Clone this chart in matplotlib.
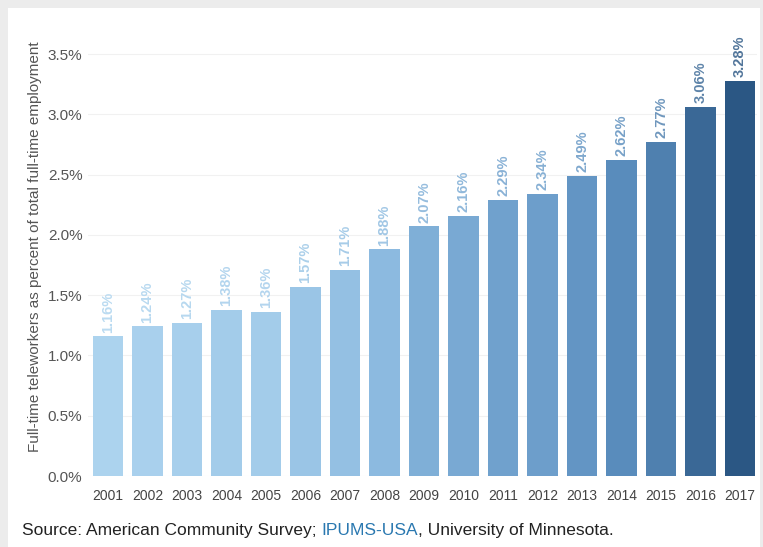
import matplotlib.pyplot as plt
from matplotlib.colors import LinearSegmentedColormap, Normalize
from matplotlib.patches import Rectangle

plt.rcParams['font.family'] = ['Liberation Sans', 'DejaVu Sans']

years = ['2001', '2002', '2003', '2004', '2005', '2006', '2007', '2008', '2009',
         '2010', '2011', '2012', '2013', '2014', '2015', '2016', '2017']
share = [1.16, 1.24, 1.27, 1.38, 1.36, 1.57, 1.71, 1.88, 2.07,
         2.16, 2.29, 2.34, 2.49, 2.62, 2.77, 3.06, 3.28]
yticks = [0.0, 0.5, 1.0, 1.5, 2.0, 2.5, 3.0, 3.5]

fig = plt.figure(figsize=(7.63, 5.47), dpi=100)
fig.patch.set_facecolor('#ececec')
# white card behind everything
fig.patches.append(Rectangle((8 / 763, 0), 752 / 763, 539 / 547,
                             transform=fig.transFigure, facecolor='white',
                             edgecolor='none', zorder=-10))

ax = fig.add_axes([88 / 763, 71 / 547, 669 / 763, 0.7935])
ax.set_facecolor('none')

cmap = LinearSegmentedColormap.from_list('blues', ['#acd3ee', '#8dbbe0', '#5d90c0', '#2b5784'])
norm = Normalize(min(share), max(share))
colors = [cmap(norm(v)) for v in share]

x = range(len(years))
ax.bar(x, share, width=0.77, color=colors, zorder=2)

for i, v in enumerate(share):
    c = colors[i]
    lc = tuple(0.82 * c[k] + 0.18 for k in range(3))
    ax.text(i, v + 0.03, f'{v:.2f}%', rotation=90, ha='center', va='bottom',
            fontsize=10.5, fontweight='bold', color=lc, clip_on=False)

ax.set_xlim(-0.506, 16.43)
ax.set_ylim(0, 3.6)
ax.set_xticks(list(x))
ax.set_xticklabels(years, fontsize=10, color='#444444')
ax.set_yticks(yticks)
ax.set_yticklabels([f'{t:.1f}%' for t in yticks], fontsize=11, color='#555555')
ax.tick_params(axis='x', length=0, pad=9)
ax.tick_params(axis='y', length=0, pad=4)
ax.grid(axis='y', color='#f1f1f1', linewidth=0.8, zorder=0)
for s in ax.spines.values():
    s.set_visible(False)

ax.set_ylabel('Full-time teleworkers as percent of total full-time employment',
              fontsize=11, color='#555555', va='center')
ax.yaxis.set_label_coords(-0.079, 0.528)

# source line with coloured link text
r = fig.canvas.get_renderer()
t1 = fig.text(22 / 763, 12 / 547, 'Source: American Community Survey; ', fontsize=12.5, color='#222222')
bb = t1.get_window_extent(r)
t2 = fig.text(bb.x1 / 763, 12 / 547, 'IPUMS-USA', fontsize=12.5, color='#2a78b0')
bb2 = t2.get_window_extent(r)
fig.text(bb2.x1 / 763, 12 / 547, ', University of Minnesota.', fontsize=12.5, color='#222222')

fig.savefig('out.png', dpi=100, facecolor=fig.get_facecolor())
